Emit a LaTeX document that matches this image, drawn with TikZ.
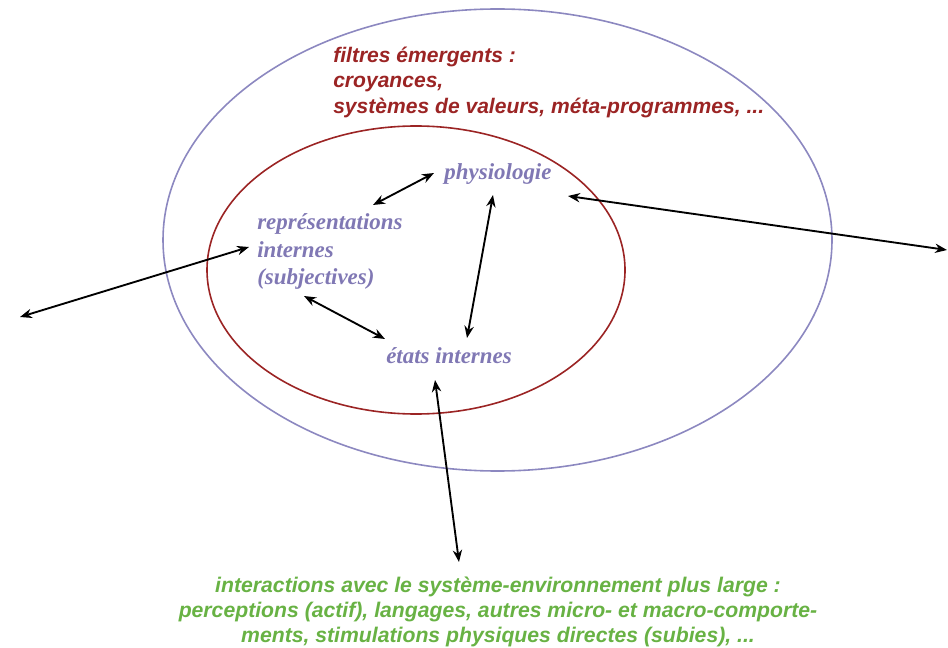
\documentclass[tikz,border=0pt]{standalone}
\usepackage{fontspec}
\setmainfont{Liberation Serif}
\newfontfamily\arialfont{Liberation Sans}
\usetikzlibrary{arrows.meta}
\definecolor{darkred}{RGB}{155,36,36}
\definecolor{lav}{RGB}{140,136,192}
\definecolor{purp}{RGB}{128,120,180}
\definecolor{grn}{RGB}{104,178,68}
\tikzset{
  link/.style={{Stealth[length=9pt,width=7pt]}-{Stealth[length=9pt,width=7pt]}, line width=1.4pt, black},
  redtxt/.style={font=\arialfont\bfseries\itshape\fontsize{15.8}{18.9}\selectfont, text=darkred, align=left, inner sep=0pt, anchor=north west},
  purptxt/.style={font=\bfseries\itshape\fontsize{17.2}{20.9}\selectfont, text=purp, inner sep=0pt},
  grntxt/.style={font=\arialfont\bfseries\itshape\fontsize{15.9}{18.6}\selectfont, text=grn, align=center, inner sep=0pt, anchor=north}
}
\begin{document}
\begin{tikzpicture}[x=0.75pt,y=-0.75pt]
\useasboundingbox (0,0) rectangle (948,648);
\draw[lav, line width=1.2pt] (497.5,240) ellipse [x radius=334.5, y radius=231];
\draw[darkred, line width=1.2pt] (416,270) ellipse [x radius=209, y radius=144];
\node[redtxt] (filt) at (333,47) {filtres émergents :\\croyances,\\systèmes de valeurs, méta-programmes, ...};
\node[purptxt, anchor=base] (phys) at (498,180) {physiologie};
\node[purptxt, align=left, anchor=north west] (rep) at (257,213) {représentations\\internes\\(subjectives)};
\node[purptxt, anchor=base] (etat) at (449,363) {états internes};
\node[grntxt] (inter) at (498,577) {interactions avec le système-environnement plus large :\\perceptions (actif), langages, autres micro- et macro-comporte-\\ments, stimulations physiques directes (subies), ...};
\coordinate (a1) at (373,205); \coordinate (a2) at (434,173);
\coordinate (b1) at (493,195); \coordinate (b2) at (467,338);
\coordinate (c1) at (304,296); \coordinate (c2) at (385,339);
\coordinate (d1) at (20,317);  \coordinate (d2) at (249,247);
\coordinate (e1) at (568,196); \coordinate (e2) at (947,250);
\coordinate (f1) at (435,380); \coordinate (f2) at (459,562);
\draw[link] (a1) -- (a2);
\draw[link] (b1) -- (b2);
\draw[link] (c1) -- (c2);
\draw[link] (d1) -- (d2);
\draw[link] (e1) -- (e2);
\draw[link] (f1) -- (f2);
\end{tikzpicture}
\end{document}
